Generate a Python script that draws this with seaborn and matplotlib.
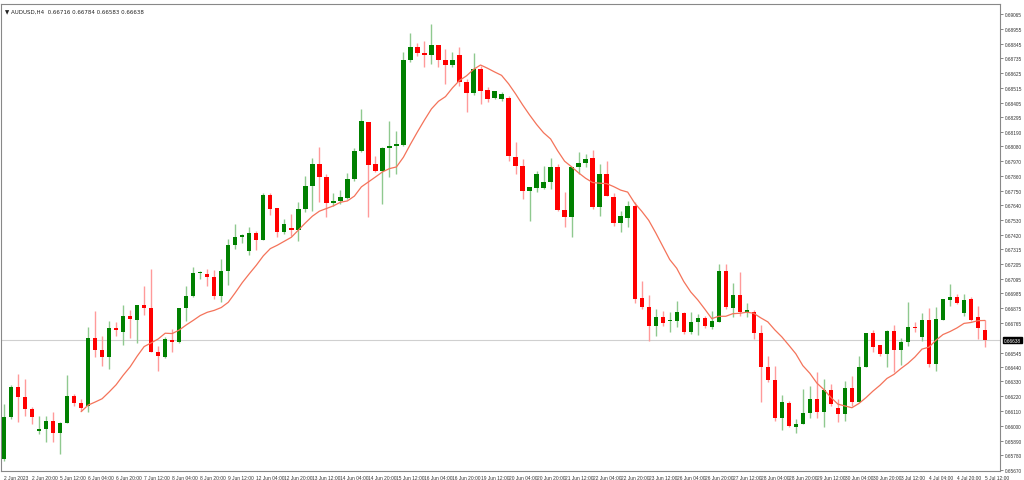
import numpy as np
import pandas as pd
import matplotlib
matplotlib.use("Agg")
import matplotlib.pyplot as plt
import seaborn as sns

opens = [0.65752,0.66065,0.66288,0.66214,0.66124,0.65960,0.65975,0.66035,0.65946,0.66020,
0.66221,0.66169,0.66146,0.66653,0.66563,0.66511,0.66727,0.66698,0.66817,0.66787,
0.66899,0.66876,0.66549,0.66511,0.66638,0.66623,0.66876,0.66966,0.67137,0.67129,
0.67107,0.66966,0.67152,0.67345,0.67405,0.67301,0.67435,0.67382,0.67717,0.67621,
0.67442,0.67472,0.67457,0.67613,0.67785,0.67948,0.67852,0.67658,0.67673,0.67695,
0.67837,0.68045,0.68261,0.67948,0.67896,0.68067,0.68082,0.68090,0.68723,0.68819,
0.68775,0.68760,0.68834,0.68723,0.68685,0.68760,0.68559,0.68477,0.68656,0.68499,
0.68440,0.68432,0.68440,0.68000,0.67933,0.67747,0.67770,0.67770,0.67814,0.67926,
0.67606,0.67554,0.67926,0.67956,0.67993,0.67628,0.67874,0.67703,0.67509,0.67546,
0.67636,0.66951,0.66884,0.66742,0.66809,0.66779,0.66779,0.66839,0.66698,0.66772,
0.66802,0.66735,0.66772,0.67152,0.66876,0.66973,0.66846,0.66846,0.66690,0.66437,
0.66340,0.66057,0.66169,0.65990,0.66012,0.66094,0.66199,0.66102,0.66266,0.66132,
0.66087,0.66281,0.66176,0.66437,0.66690,0.66601,0.66534,0.66705,0.66563,0.66623,
0.66735,0.66660,0.66787,0.66459,0.66787,0.66936,0.66958,0.66839,0.66943,0.66809,
0.66716]
highs = [0.66161,0.66303,0.66385,0.66348,0.66139,0.66072,0.66072,0.66102,0.66027,0.66377,
0.66236,0.66199,0.66735,0.66854,0.66668,0.66779,0.66772,0.66899,0.66861,0.66899,
0.67040,0.67167,0.66593,0.66660,0.66720,0.66876,0.67040,0.67181,0.67152,0.67167,
0.67159,0.67241,0.67390,0.67502,0.67427,0.67479,0.67449,0.67732,0.67732,0.67621,
0.67539,0.67576,0.67665,0.67859,0.67993,0.68075,0.67874,0.67732,0.67755,0.67881,
0.68067,0.68358,0.68261,0.68008,0.68075,0.68268,0.68194,0.68782,0.68924,0.68849,
0.68864,0.68991,0.68834,0.68805,0.68782,0.68819,0.68581,0.68775,0.68678,0.68522,
0.68492,0.68484,0.68455,0.68112,0.67986,0.67777,0.67896,0.67933,0.67993,0.67948,
0.67740,0.67926,0.68038,0.68023,0.68053,0.67948,0.67971,0.67732,0.67598,0.67673,
0.67665,0.67077,0.66973,0.66869,0.66854,0.66846,0.66928,0.66846,0.66846,0.66831,
0.66817,0.66854,0.67204,0.67204,0.67062,0.67144,0.66913,0.66861,0.66750,0.66519,
0.66444,0.66228,0.66184,0.66050,0.66273,0.66295,0.66400,0.66348,0.66310,0.66199,
0.66333,0.66370,0.66519,0.66690,0.66712,0.66601,0.66712,0.66750,0.66653,0.66921,
0.66772,0.66839,0.66876,0.66884,0.66943,0.67055,0.66980,0.66980,0.66958,0.66891,
0.66784]
lows = [0.65737,0.66050,0.66027,0.66072,0.66012,0.65938,0.65879,0.65879,0.65789,0.66020,
0.66146,0.66109,0.66102,0.66511,0.66444,0.66422,0.66668,0.66601,0.66653,0.66616,
0.66824,0.66549,0.66407,0.66504,0.66549,0.66616,0.66779,0.66958,0.67092,0.67040,
0.66943,0.66921,0.67047,0.67315,0.67360,0.67271,0.67308,0.67382,0.67569,0.67405,
0.67427,0.67412,0.67375,0.67591,0.67598,0.67665,0.67554,0.67636,0.67651,0.67688,
0.67822,0.68038,0.67554,0.67889,0.67651,0.67852,0.67874,0.68082,0.68708,0.68752,
0.68671,0.68693,0.68671,0.68544,0.68671,0.68529,0.68336,0.68462,0.68395,0.68410,
0.68432,0.68417,0.67971,0.67874,0.67688,0.67524,0.67740,0.67762,0.67762,0.67598,
0.67479,0.67405,0.67874,0.67926,0.67613,0.67561,0.67710,0.67487,0.67442,0.67479,
0.66913,0.66869,0.66631,0.66668,0.66742,0.66698,0.66735,0.66683,0.66683,0.66675,
0.66727,0.66720,0.66772,0.66869,0.66809,0.66817,0.66809,0.66645,0.66176,0.66325,
0.66035,0.65968,0.65990,0.65946,0.66012,0.66057,0.66057,0.65990,0.66146,0.66027,
0.66035,0.66146,0.66176,0.66437,0.66549,0.66519,0.66437,0.66400,0.66452,0.66593,
0.66698,0.66631,0.66437,0.66407,0.66787,0.66891,0.66906,0.66817,0.66779,0.66645,
0.66583]
closes = [0.66065,0.66288,0.66214,0.66124,0.66065,0.65975,0.66035,0.65946,0.66020,0.66221,
0.66169,0.66132,0.66653,0.66563,0.66511,0.66727,0.66712,0.66817,0.66794,0.66899,
0.66876,0.66549,0.66519,0.66645,0.66623,0.66876,0.66966,0.67137,0.67144,0.67107,
0.66966,0.67152,0.67345,0.67405,0.67420,0.67435,0.67382,0.67717,0.67613,0.67442,
0.67502,0.67457,0.67613,0.67785,0.67948,0.67852,0.67658,0.67673,0.67703,0.67837,
0.68045,0.68268,0.67941,0.67896,0.68067,0.68082,0.68097,0.68723,0.68819,0.68775,
0.68760,0.68834,0.68723,0.68685,0.68723,0.68559,0.68477,0.68656,0.68492,0.68432,
0.68492,0.68470,0.68008,0.67933,0.67747,0.67777,0.67874,0.67814,0.67926,0.67606,
0.67554,0.67926,0.67956,0.67986,0.67628,0.67874,0.67710,0.67509,0.67561,0.67636,
0.66943,0.66884,0.66742,0.66809,0.66765,0.66787,0.66846,0.66698,0.66772,0.66802,
0.66742,0.66779,0.67152,0.66884,0.66973,0.66846,0.66861,0.66690,0.66437,0.66340,
0.66057,0.66176,0.65998,0.66012,0.66094,0.66199,0.66102,0.66266,0.66161,0.66087,
0.66281,0.66176,0.66437,0.66690,0.66586,0.66534,0.66705,0.66563,0.66623,0.66735,
0.66727,0.66787,0.66459,0.66794,0.66943,0.66958,0.66913,0.66936,0.66787,0.66727,
0.66638]

x_labels = ["2 Jun 2023","2 Jun 20:00","5 Jun 12:00","6 Jun 04:00","6 Jun 20:00","7 Jun 12:00",
"8 Jun 04:00","8 Jun 20:00","9 Jun 12:00","12 Jun 04:00","12 Jun 20:00","13 Jun 12:00",
"14 Jun 04:00","14 Jun 20:00","15 Jun 12:00","16 Jun 04:00","16 Jun 20:00","19 Jun 12:00",
"20 Jun 04:00","20 Jun 20:00","21 Jun 12:00","22 Jun 04:00","22 Jun 20:00","23 Jun 12:00",
"26 Jun 04:00","26 Jun 20:00","27 Jun 12:00","28 Jun 04:00","28 Jun 20:00","29 Jun 12:00",
"30 Jun 04:00","30 Jun 20:00","3 Jul 12:00","4 Jul 04:00","4 Jul 20:00","5 Jul 12:00"]
y_ticks = [0.69065,0.68955,0.68845,0.68735,0.68625,0.68515,0.68405,0.68295,0.68190,0.68080,
0.67970,0.67860,0.67750,0.67640,0.67530,0.67420,0.67315,0.67205,0.67095,0.66985,0.66875,
0.66765,0.66545,0.66440,0.66330,0.66220,0.66110,0.66000,0.65890,0.65780,0.65670]
symbol = "AUDUSD,H4"
header_ohlc = "0.66716 0.66784 0.66583 0.66638"
last_price = 0.66638
ma_period = 12

sns.set_style("white")
plt.rcParams['font.family'] = ['Liberation Sans', 'DejaVu Sans']

df = pd.DataFrame({"i": np.arange(len(closes)), "open": opens, "high": highs,
                   "low": lows, "close": closes})
df["ma"] = df["close"].rolling(ma_period).mean()

fig = plt.figure(figsize=(10.24, 4.81), dpi=100)
ax = fig.add_axes([0.001, 0.0187, 0.976, 0.971])

up = df["close"] >= df["open"]
GREEN, RED = "#008000", "#ff0000"
for mask, col, wcol in [(up, GREEN, "#8fc98f"), (~up, RED, "#ff9a9a")]:
    d = df[mask]
    ax.vlines(d["i"], d["low"], d["high"], color=wcol, lw=1.0, zorder=2)
    bottom = np.minimum(d["open"], d["close"])
    height = np.maximum(np.abs(d["close"] - d["open"]), 0.00003)
    ax.bar(d["i"], height, bottom=bottom, width=0.62, color=col, lw=0, zorder=3)

ax.axhline(last_price, color="#d0d0d0", lw=0.8, zorder=1)
sns.lineplot(data=df, x="i", y="ma", ax=ax, color="#f4735a", lw=0.9, zorder=4, legend=False)

ax.set_xlim(-0.43, 142.2)
ax.set_ylim(0.65663, 0.69140)
ax.yaxis.tick_right()
ax.set_yticks(y_ticks)
ax.set_yticklabels([f"{v:.5f}" for v in y_ticks], fontsize=3.4)
ax.set_xticks(np.arange(0, 4 * len(x_labels), 4))
ax.set_xticklabels(x_labels, fontsize=3.5, ha="left")
ax.tick_params(axis="both", length=2, width=0.5, pad=1.0, colors="#555555",
               labelcolor="#333333")
ax.set_xlabel(""); ax.set_ylabel("")
for s in ax.spines.values():
    s.set_color("#888888"); s.set_linewidth(0.8)

ax.text(1.003, last_price, f"{last_price:.5f}", transform=ax.get_yaxis_transform(),
        fontsize=3.4, color="white", va="center", ha="left",
        bbox=dict(boxstyle="square,pad=0.2", fc="black", ec="black"))
ax.text(0.004, 0.99, "\u25bc " + symbol + "  " + header_ohlc,
        transform=ax.transAxes, fontsize=4.0, va="top", ha="left", color="#222222",
        family=['DejaVu Sans'])

fig.savefig("out.png", dpi=100)
